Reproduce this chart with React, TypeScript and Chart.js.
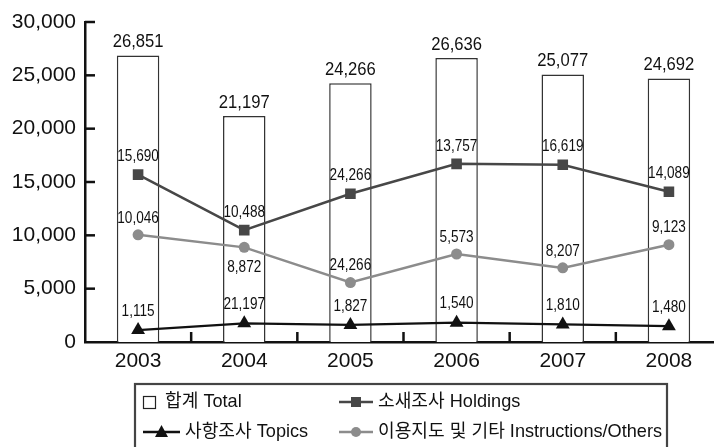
import { useEffect, useRef } from "react";
import { Chart, registerables } from "chart.js";

Chart.register(...registerables);

const years = ["2003", "2004", "2005", "2006", "2007", "2008"];
const totalValues = [26851, 21197, 24266, 26636, 25077, 24692];
const holdingsValues = [15690, 10488, 13900, 16700, 16619, 14089];
const othersValues = [10046, 8872, 5573, 8250, 6950, 9123];
const topicsValues = [1115, 1750, 1600, 1810, 1650, 1480];

const totalLabels = ["26,851", "21,197", "24,266", "26,636", "25,077", "24,692"];
const holdingsLabels = ["15,690", "10,488", "24,266", "13,757", "16,619", "14,089"];
const othersLabels = ["10,046", "8,872", "24,266", "5,573", "8,207", "9,123"];
const topicsLabels = ["1,115", "21,197", "1,827", "1,540", "1,810", "1,480"];
const othersLabelBelow = [false, true, false, false, false, false];

const yTickValues = [0, 5000, 10000, 15000, 20000, 25000, 30000];

const legendItems = {
  total: "합계 Total",
  holdings: "소새조사 Holdings",
  topics: "사항조사 Topics",
  others: "이용지도 및 기타 Instructions/Others",
};

const FONT = '"Liberation Sans", Arial, "Noto Sans CJK KR", sans-serif';
const C_HOLD = "#474747";
const C_OTHER = "#8c8c8c";
const C_TOPIC = "#111111";

function drawText(
  ctx: CanvasRenderingContext2D,
  text: string,
  x: number,
  y: number,
  size: number,
  sx: number,
  align: CanvasTextAlign = "center",
  color = "#111"
) {
  ctx.save();
  ctx.font = `${size}px ${FONT}`;
  ctx.fillStyle = color;
  ctx.textAlign = align;
  ctx.textBaseline = "middle";
  ctx.translate(x, y);
  ctx.scale(sx, 1);
  ctx.fillText(text, 0, 0);
  ctx.restore();
}

const labelPlugin = {
  id: "valueLabels",
  afterDatasetsDraw(chart: any) {
    const ctx = chart.ctx as CanvasRenderingContext2D;
    chart.getDatasetMeta(0).data.forEach((el: any, i: number) => {
      drawText(ctx, totalLabels[i], el.x, el.y - 13, 17.5, 0.95);
    });
    chart.getDatasetMeta(1).data.forEach((el: any, i: number) => {
      drawText(ctx, holdingsLabels[i], el.x, el.y - 18, 17, 0.8);
    });
    chart.getDatasetMeta(2).data.forEach((el: any, i: number) => {
      const dy = othersLabelBelow[i] ? 20 : -17;
      drawText(ctx, othersLabels[i], el.x, el.y + dy, 17, 0.8);
    });
    chart.getDatasetMeta(3).data.forEach((el: any, i: number) => {
      drawText(ctx, topicsLabels[i], el.x, el.y - 19, 17, 0.8);
    });
  },
};

const axisTickPlugin = {
  id: "inwardTicks",
  afterDraw(chart: any) {
    const ctx = chart.ctx as CanvasRenderingContext2D;
    const { left, bottom } = chart.chartArea;
    const ys = chart.scales.y;
    const xs = chart.scales.x;
    ctx.save();
    ctx.strokeStyle = "#111";
    ctx.lineWidth = 2.5;
    yTickValues.forEach((v) => {
      if (v === 0) return;
      const py = ys.getPixelForValue(v);
      ctx.beginPath();
      ctx.moveTo(left, py);
      ctx.lineTo(left + 10, py);
      ctx.stroke();
    });
    for (let i = 1; i <= years.length; i++) {
      const px = (xs.getPixelForValue(i - 1) + xs.getPixelForValue(i)) / 2;
      ctx.beginPath();
      ctx.moveTo(px, bottom);
      ctx.lineTo(px, bottom - 10);
      ctx.stroke();
    }
    ctx.restore();
  },
};

const legendPlugin = {
  id: "boxLegend",
  afterDraw(chart: any) {
    const ctx = chart.ctx as CanvasRenderingContext2D;
    ctx.save();
    ctx.strokeStyle = "#444";
    ctx.lineWidth = 2.2;
    ctx.strokeRect(135, 384, 532, 80);

    const r1 = 402;
    const r2 = 432;
    // total
    ctx.strokeStyle = "#222";
    ctx.lineWidth = 1.2;
    ctx.strokeRect(143.5, 396.5, 12, 12);
    drawText(ctx, legendItems.total, 165, r1, 18.5, 0.98, "left");

    // holdings
    ctx.strokeStyle = C_HOLD;
    ctx.lineWidth = 2.5;
    ctx.beginPath();
    ctx.moveTo(339, r1);
    ctx.lineTo(373, r1);
    ctx.stroke();
    ctx.fillStyle = C_HOLD;
    ctx.fillRect(351, r1 - 5, 10, 10);
    drawText(ctx, legendItems.holdings, 378, r1, 18.5, 0.98, "left");

    // topics
    ctx.strokeStyle = C_TOPIC;
    ctx.beginPath();
    ctx.moveTo(143, r2);
    ctx.lineTo(180, r2);
    ctx.stroke();
    ctx.fillStyle = C_TOPIC;
    ctx.beginPath();
    ctx.moveTo(161.5, r2 - 7);
    ctx.lineTo(168, r2 + 5);
    ctx.lineTo(155, r2 + 5);
    ctx.closePath();
    ctx.fill();
    drawText(ctx, legendItems.topics, 185, r2, 18.5, 0.98, "left");

    // others
    ctx.strokeStyle = C_OTHER;
    ctx.beginPath();
    ctx.moveTo(339, r2);
    ctx.lineTo(373, r2);
    ctx.stroke();
    ctx.fillStyle = C_OTHER;
    ctx.beginPath();
    ctx.arc(356, r2, 5, 0, Math.PI * 2);
    ctx.fill();
    drawText(ctx, legendItems.others, 378, r2, 18.5, 0.98, "left");
    ctx.restore();
  },
};

export default function App() {
  const ref = useRef<HTMLCanvasElement>(null);

  useEffect(() => {
    if (!ref.current) return;
    const chart = new Chart(ref.current, {
      type: "bar",
      data: {
        labels: years,
        datasets: [
          {
            type: "bar",
            label: "Total",
            data: totalValues,
            backgroundColor: "#ffffff",
            borderColor: "#333",
            borderWidth: 1.5,
            barPercentage: 0.4,
            categoryPercentage: 1,
            order: 10,
          } as any,
          {
            type: "line",
            label: "Holdings",
            data: holdingsValues,
            borderColor: C_HOLD,
            borderWidth: 2.5,
            pointStyle: "rect",
            pointRadius: 7.5,
            pointBackgroundColor: C_HOLD,
            pointBorderWidth: 0,
            tension: 0,
            order: 3,
          },
          {
            type: "line",
            label: "Others",
            data: othersValues,
            borderColor: C_OTHER,
            borderWidth: 2.5,
            pointStyle: "circle",
            pointRadius: 5.5,
            pointBackgroundColor: C_OTHER,
            pointBorderWidth: 0,
            tension: 0,
            order: 2,
          },
          {
            type: "line",
            label: "Topics",
            data: topicsValues,
            borderColor: C_TOPIC,
            borderWidth: 2.2,
            pointStyle: "triangle",
            pointRadius: 8,
            pointBackgroundColor: C_TOPIC,
            pointBorderWidth: 0,
            tension: 0,
            order: 1,
          },
        ],
      },
      options: {
        responsive: false,
        animation: false,
        layout: { padding: { top: 22, right: 2, left: 0, bottom: 0 } },
        plugins: {
          legend: { display: false },
          tooltip: { enabled: false },
        },
        scales: {
          x: {
            grid: { display: false, drawTicks: false },
            border: { display: true, color: "#111", width: 2.5 },
            ticks: {
              color: "#111",
              font: { size: 21, family: FONT },
              padding: 7,
              maxRotation: 0,
            },
            afterFit: (s: any) => {
              s.height = 105;
            },
          },
          y: {
            min: 0,
            max: 30000,
            grid: { display: false, drawTicks: false },
            border: { display: true, color: "#111", width: 2.5 },
            ticks: {
              stepSize: 5000,
              color: "#111",
              font: { size: 21, family: FONT },
              padding: 9,
              callback: (v: any) => Number(v).toLocaleString("en-US"),
            },
            afterFit: (s: any) => {
              s.width = 85;
            },
          },
        },
      },
      plugins: [labelPlugin, axisTickPlugin, legendPlugin],
    });
    return () => chart.destroy();
  }, []);

  return (
    <div
      style={{
        position: "absolute",
        left: 0,
        top: 0,
        width: 714,
        height: 447,
        overflow: "hidden",
        background: "#fff",
      }}
    >
      <canvas ref={ref} width={730} height={447} style={{ display: "block" }} />
    </div>
  );
}
